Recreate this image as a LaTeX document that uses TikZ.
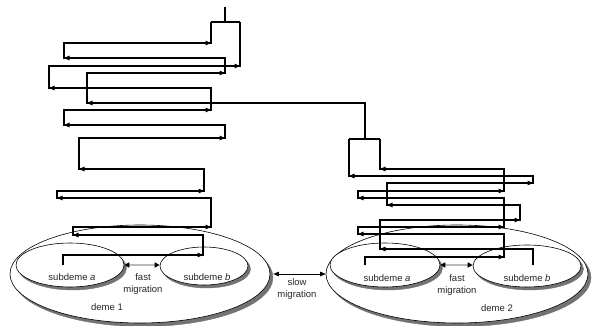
\documentclass[tikz,border=0pt]{standalone}
\usepackage{fontspec}
\setmainfont{Liberation Sans}
\usetikzlibrary{shapes.geometric,arrows.meta}
\begin{document}
\begin{tikzpicture}[x=1pt,y=-1pt,
  lin/.style={line width=1.2pt, line join=miter},
  tip/.style={lin,-{Triangle[length=5.5pt,width=4.5pt]}},
  deme/.style={ellipse, draw, line width=0.6pt, fill=white, inner sep=0pt},
  shad/.style={ellipse, fill=black!55, draw=black!55, line width=0.4pt, inner sep=0pt},
  txt/.style={font=\fontsize{9.5}{12.5}\selectfont, text=black!85, inner sep=0pt, align=center},
  fast/.style={line width=1.8pt, draw=gray!55,
    {Triangle[length=5pt,width=5pt,color=black]}-{Triangle[length=5pt,width=5pt,color=black]}},
  slow/.style={line width=0.7pt,
    {Triangle[length=5.5pt,width=4.5pt]}-{Triangle[length=5.5pt,width=4.5pt]}}
]
\useasboundingbox (0,0) rectangle (592,326);

% demes (shadow first, then the outline)
\path[shad] (143,277.5) ellipse [x radius=130pt, y radius=49pt];
\node[deme, minimum width=260pt, minimum height=98pt] (d1) at (140,274) {};
\path[shad] (460,277.5) ellipse [x radius=131pt, y radius=49pt];
\node[deme, minimum width=262pt, minimum height=98pt] (d2) at (457,274) {};
% subdemes
\path[shad] (72.5,268) ellipse [x radius=54pt, y radius=22pt];
\node[deme, minimum width=108pt, minimum height=44pt] (s1a) at (70,265) {};
\path[shad] (206.5,269) ellipse [x radius=44pt, y radius=19pt];
\node[deme, minimum width=88pt, minimum height=38pt] (s1b) at (204,266) {};
\path[shad] (387.5,268) ellipse [x radius=55pt, y radius=22pt];
\node[deme, minimum width=110pt, minimum height=44pt] (s2a) at (385,265) {};
\path[shad] (529.5,269) ellipse [x radius=54pt, y radius=21pt];
\node[deme, minimum width=108pt, minimum height=42pt] (s2b) at (527,266) {};

% texts
\node[txt] (t1a) at (72,277) {subdeme \textit{a}};
\node[txt] (t1b) at (207,277) {subdeme \textit{b}};
\node[txt] (f1) at (143,284) {fast\\migration};
\node[txt] (dl1) at (107,307) {deme 1};
\node[txt] (t2a) at (387,278) {subdeme \textit{a}};
\node[txt] (t2b) at (527,278) {subdeme \textit{b}};
\node[txt] (f2) at (457,285) {fast\\migration};
\node[txt] (dl2) at (497,308) {deme 2};
\node[txt] (sl) at (297,289) {slow\\migration};

% migration arrows
\draw[fast] (s1a.east) -- (s1a.east -| s1b.west);
\draw[fast] (s2a.east) -- (s2a.east -| s2b.west);
\draw[slow] ([xshift=3pt]d1.east) -- (d2.west);

% lineage coordinates
\foreach \n/\x/\y in {A0/63/265, A1/63/255, A2/203/255, A3/203/235, A4/73/235,
  A5/73/227, A6/211/227, A7/211/198, A8/57/198, A9/57/191, A10/204/191,
  A11/204/169, A12/79/169, A13/79/138, A14/225/138, A15/225/125, A16/64/125,
  A17/64/110, A18/211/110, A19/211/88, A20/49/88, A21/49/66, A22/240/66, A23/240/22,
  B0/365/139, B1/365/103, B2/87/103, B3/87/73, B4/225/73, B5/225/58, B6/64/58,
  B7/64/43, B8/211/43, B9/211/22, T0/225/22, T1/225/7,
  C0/365/265, C1/365/257, C2/504/257, C3/504/234, C4/358/234, C5/358/227,
  C6/504/227, C7/504/198, C8/358/198, C9/358/191, C10/504/191, C11/504/169,
  C12/380/169, C13/380/139,
  D0/533/265, D1/533/249, D2/380/249, D3/380/220, D4/520/220, D5/520/205,
  D6/387/205, D7/387/183, D8/533/183, D9/533/176, D10/349/176, D11/349/139}
  \coordinate (\n) at (\x,\y);

% lineage paths
\draw[lin] (A0) -- (A1) -- (A2) -- (A3) -- (A4) -- (A5) -- (A6) -- (A7) -- (A8)
  -- (A9) -- (A10) -- (A11) -- (A12) -- (A13) -- (A14) -- (A15) -- (A16) -- (A17)
  -- (A18) -- (A19) -- (A20) -- (A21) -- (A22) -- (A23);
\draw[lin] (B0) -- (B1) -- (B2) -- (B3) -- (B4) -- (B5) -- (B6) -- (B7) -- (B8) -- (B9);
\draw[lin] (B9) -- (A23);
\draw[lin] (T0) -- (T1);
\draw[lin] (C0) -- (C1) -- (C2) -- (C3) -- (C4) -- (C5) -- (C6) -- (C7) -- (C8)
  -- (C9) -- (C10) -- (C11) -- (C12) -- (C13);
\draw[lin] (D0) -- (D1) -- (D2) -- (D3) -- (D4) -- (D5) -- (D6) -- (D7) -- (D8)
  -- (D9) -- (D10) -- (D11);
\draw[lin] (D11) -- (C13);

% arrowheads on horizontal runs
\foreach \s/\e in {A1/A2, A3/A4, A5/A6, A7/A8, A9/A10, A11/A12, A13/A14, A15/A16,
  A17/A18, A19/A20, A21/A22, B1/B2, B3/B4, B5/B6, B7/B8,
  C1/C2, C3/C4, C5/C6, C7/C8, C9/C10, C11/C12,
  D1/D2, D3/D4, D5/D6, D7/D8, D9/D10}
  \draw[tip] (\s) -- (\e);
\end{tikzpicture}
\end{document}
